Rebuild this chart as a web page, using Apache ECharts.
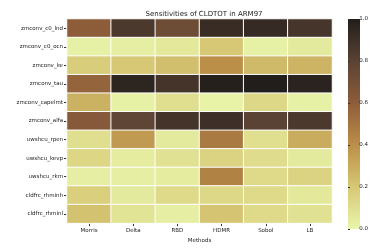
<!DOCTYPE html>
<html><head><meta charset="utf-8">
<script src="https://cdn.jsdelivr.net/npm/echarts@6/dist/echarts.min.js"></script>
<style>html,body{margin:0;padding:0;background:#fff}#c{width:371px;height:249px}</style>
</head><body><div id="c"></div>
<script>
const methods = ["Morris","Delta","RBD","HDMR","Sobol","LB"];
const params = ["zmconv_c0_lnd","zmconv_c0_ocn","zmconv_ke","zmconv_tau","zmconv_capelmt","zmconv_alfa","uwshcu_rpen","uwshcu_kevp","uwshcu_rkm","cldfrc_rhminh","cldfrc_rhminl"];
// rows follow params, columns follow methods
const values = [
  [0.60,0.85,0.72,0.92,0.93,0.87],
  [0.02,0.03,0.06,0.20,0.02,0.05],
  [0.18,0.20,0.23,0.40,0.25,0.27],
  [0.57,0.96,0.88,0.99,1.00,0.97],
  [0.28,0.02,0.10,0.01,0.13,0.02],
  [0.63,0.78,0.88,0.90,0.80,0.85],
  [0.10,0.36,0.05,0.48,0.10,0.30],
  [0.14,0.04,0.09,0.15,0.11,0.05],
  [0.03,0.03,0.04,0.45,0.12,0.15],
  [0.17,0.05,0.12,0.13,0.12,0.06],
  [0.22,0.08,0.03,0.21,0.12,0.09]
];
const cbTicks = [0,0.2,0.4,0.6,0.8,1.0];
const cmap = ["#e9f5ab","#d6c874","#bb8f48","#8d5d3a","#5a4234","#221e1b"];

const data = [];
values.forEach((row,i)=>row.forEach((v,j)=>data.push([j,i,v])));
const font = "DejaVu Sans";
const chart = echarts.init(document.getElementById('c'),null,{renderer:'canvas'});
chart.setOption({
  animation:false,
  title:{text:"Sensitivities of CLDTOT in ARM97",left:199,top:6,textAlign:'center',
    textStyle:{fontFamily:font,fontSize:7,fontWeight:'normal',color:'#222'}},
  grid:[{left:67,top:19,width:265,height:210},{left:348,top:19,width:12,height:210}],
  xAxis:[{type:'category',data:methods,gridIndex:0,position:'bottom',
      axisLine:{show:false},axisTick:{show:true,alignWithLabel:true,length:3,lineStyle:{color:'#333'}},
      axisLabel:{fontFamily:font,fontSize:5.5,color:'#222',margin:4},
      name:"Methods",nameLocation:'middle',nameGap:13,nameTextStyle:{fontFamily:font,fontSize:5.5,color:'#222'},
      splitLine:{show:false}},
    {type:'value',gridIndex:1,show:false,min:0,max:1}],
  yAxis:[{type:'category',data:params,gridIndex:0,inverse:true,
      axisLine:{show:false},axisTick:{show:true,alignWithLabel:true,length:3,lineStyle:{color:'#333'}},
      axisLabel:{fontFamily:font,fontSize:5.5,color:'#222',margin:4},splitLine:{show:false}},
    {type:'value',gridIndex:1,position:'right',min:0,max:1,interval:0.2,
      axisLine:{show:false},axisTick:{show:true,length:2,lineStyle:{color:'#333'}},
      axisLabel:{fontFamily:font,fontSize:5.5,color:'#222',margin:7,formatter:v=>v.toFixed(1)},
      splitLine:{show:false}}],
  visualMap:{show:false,min:0,max:1,dimension:2,seriesIndex:0,inRange:{color:cmap}},
  graphic:[{type:'rect',shape:{x:348,y:19,width:12,height:210},
    style:{fill:new echarts.graphic.LinearGradient(0,1,0,0,cmap.map((c,i)=>({offset:i/(cmap.length-1),color:c})))}}],
  series:[{type:'heatmap',data:data,xAxisIndex:0,yAxisIndex:0,
    itemStyle:{borderColor:'#fff',borderWidth:1},emphasis:{disabled:true}}]
});
</script></body></html>
